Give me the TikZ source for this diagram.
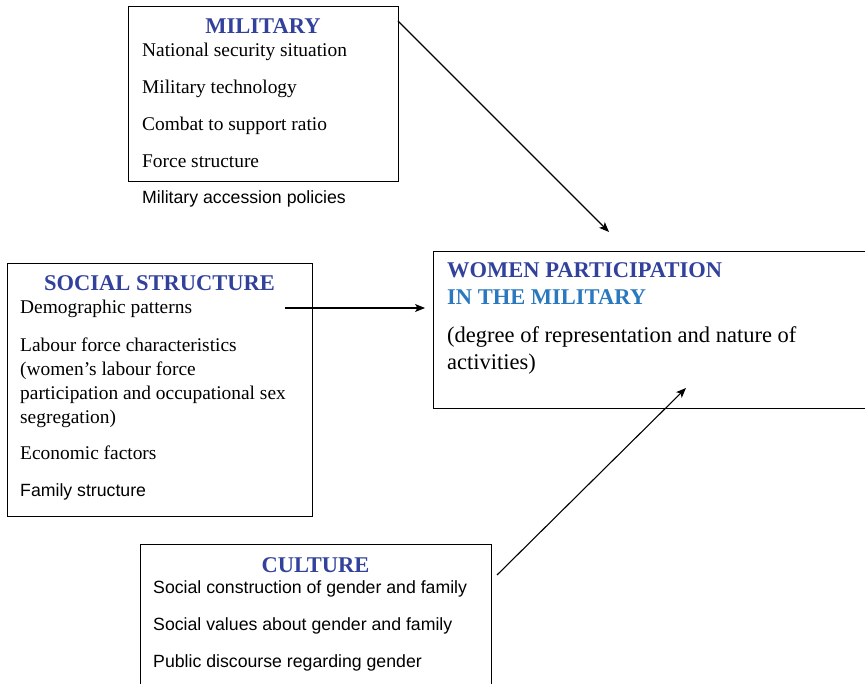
\documentclass[tikz,border=0pt]{standalone}
\usepackage{fontspec}
\setmainfont{Liberation Serif}
\setsansfont{Liberation Sans}
\usetikzlibrary{arrows.meta}
\definecolor{tblue}{HTML}{32429C}
\definecolor{lblue}{HTML}{2A78BD}
\begin{document}
\begin{tikzpicture}[x=1pt,y=-1pt,
  box/.style={draw, line width=1pt, inner sep=0pt, anchor=north west},
  txt/.style={anchor=base west, inner sep=0pt, font=\fontsize{19.4}{24}\selectfont},
  bigtxt/.style={anchor=base west, inner sep=0pt, font=\fontsize{22.5}{27}\selectfont},
  stxt/.style={anchor=base west, inner sep=0pt, font=\sffamily\fontsize{17.7}{22}\selectfont},
  ttl/.style={anchor=base, inner sep=0pt, font=\bfseries\fontsize{22.5}{27}\selectfont, text=tblue},
  ttlw/.style={anchor=base west, inner sep=0pt, font=\bfseries\fontsize{22.5}{27}\selectfont},
  arr/.style={-{Stealth[length=10pt,width=8pt,inset=2.5pt]}, line width=1.1pt}]
\useasboundingbox (0,0) rectangle (865,684);
\clip (0,0) rectangle (865,684);

% boxes
\node[box, minimum width=270pt, minimum height=175pt] (mil) at (128,6) {};
\node[box, minimum width=305pt, minimum height=253pt] (soc) at (7,263) {};
\node[box, minimum width=445pt, minimum height=157pt] (wom) at (433,251) {};
\node[box, minimum width=351pt, minimum height=170pt] (cul) at (140,544) {};

% military
\node[ttl] (milT) at (263,34) {MILITARY};
\node[txt] (mil1) at (142,57) {National security situation};
\node[txt] (mil2) at (142,94) {Military technology};
\node[txt] (mil3) at (142,131) {Combat to support ratio};
\node[txt] (mil4) at (142,168) {Force structure};
\node[stxt] (mil5) at (142,204) {Military accession policies};

% social structure
\node[ttl] (socT) at (159.5,291) {SOCIAL STRUCTURE};
\node[txt] (soc1) at (20,314) {Demographic patterns};
\node[txt] (soc2) at (20,352) {Labour force characteristics};
\node[txt] (soc3) at (20,376) {(women’s labour force};
\node[txt] (soc4) at (20,400) {participation and occupational sex};
\node[txt] (soc5) at (20,424) {segregation)};
\node[txt] (soc6) at (20,460) {Economic factors};
\node[stxt] (soc7) at (20,496) {Family structure};

% women participation
\node[ttlw, text=tblue] (womT1) at (447,278) {WOMEN PARTICIPATION};
\node[ttlw, text=lblue] (womT2) at (447,305) {IN THE MILITARY};
\node[bigtxt] (wom1) at (447,343) {(degree of representation and nature of};
\node[bigtxt] (wom2) at (447,370) {activities)};

% culture
\node[ttl] (culT) at (315.5,572) {CULTURE};
\node[stxt] (cul1) at (153,593) {Social construction of gender and family};
\node[stxt] (cul2) at (153,630) {Social values about gender and family};
\node[stxt] (cul3) at (153,667) {Public discourse regarding gender};

% connectors
\coordinate (mS) at (398,21);
\coordinate (mE) at (609,232);
\coordinate (sS) at (285,308);
\coordinate (sE) at (425,308);
\coordinate (cS) at (497,575);
\coordinate (cE) at (686,388);
\draw[arr] (mS) -- (mE);
\draw[arr] (sS) -- (sE);
\draw[arr] (cS) -- (cE);
\end{tikzpicture}
\end{document}
